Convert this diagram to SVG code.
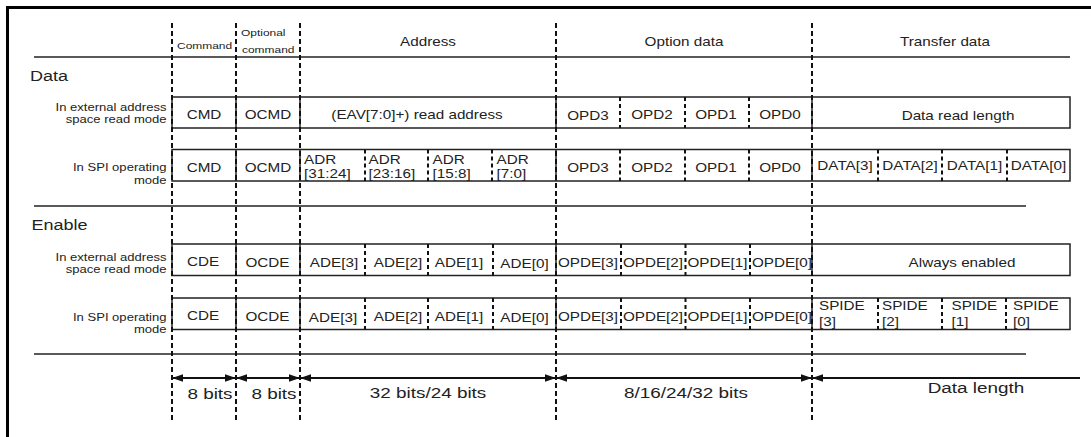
<svg xmlns="http://www.w3.org/2000/svg" width="1091" height="437" viewBox="0 0 1091 437">
<style>
.frame{fill:none;stroke:#000;stroke-width:3}
.rule{stroke:#222;stroke-width:1.3;fill:none}
.col{stroke:#111;stroke-width:2;stroke-dasharray:5 3;fill:none}
.box{fill:#fff;stroke:#222;stroke-width:1.5}
.sd{stroke:#222;stroke-width:1.5}
.dd{stroke:#111;stroke-width:2;stroke-dasharray:4 3}
.dim{stroke:#111;stroke-width:2;fill:none}
text{font-family:"Liberation Sans",Arial,Helvetica,sans-serif;fill:#222}
.c{font-size:12.5px;text-anchor:middle}
.l{font-size:12.5px}
.s{font-size:10.7px;text-anchor:end}
.h{font-size:9.8px}
.hd{font-size:12.5px;text-anchor:middle}
.sec{font-size:15px}
.b{font-size:15.5px;text-anchor:middle}
</style>
<defs>
<marker id="ah" markerUnits="userSpaceOnUse" markerWidth="11" markerHeight="8" refX="10" refY="3.5" orient="auto-start-reverse" viewBox="0 0 10 7">
<path d="M0,0 L10,3.5 L0,7 z" fill="#111"/>
</marker>
</defs>

<path class="frame" d="M7.5,437 V7.5 H1091"/>

<g id="rules">
<line class="rule" x1="34" y1="57" x2="1070" y2="57"/>
<line class="rule" x1="34" y1="206" x2="1026" y2="206"/>
<line class="rule" x1="34" y1="354" x2="1026" y2="354"/>
</g>

<g id="headers">
<text class="h" transform="translate(177 49) scale(1.22 1)">Command</text>
<text class="h" transform="translate(241 36) scale(1.22 1)">Optional</text>
<text class="h" transform="translate(242 53) scale(1.22 1)">command</text>
<text class="hd" transform="translate(428 46) scale(1.22 1)">Address</text>
<text class="hd" transform="translate(684 46) scale(1.22 1)">Option data</text>
<text class="hd" transform="translate(945 46) scale(1.22 1)">Transfer data</text>
</g>

<g id="sections">
<text class="sec" transform="translate(30 81) scale(1.2 1)">Data</text>
<text class="sec" transform="translate(31.5 230) scale(1.2 1)">Enable</text>
</g>

<g id="row-labels">
<text class="s" transform="translate(166.5 111) scale(1.22 1)">In external address</text>
<text class="s" transform="translate(166.5 123) scale(1.22 1)">space read mode</text>
<text class="s" transform="translate(166.5 171) scale(1.22 1)">In SPI operating</text>
<text class="s" transform="translate(166.5 184) scale(1.22 1)">mode</text>
<text class="s" transform="translate(166.5 260.5) scale(1.22 1)">In external address</text>
<text class="s" transform="translate(166.5 272.5) scale(1.22 1)">space read mode</text>
<text class="s" transform="translate(166.5 321) scale(1.22 1)">In SPI operating</text>
<text class="s" transform="translate(166.5 333) scale(1.22 1)">mode</text>
</g>

<!-- Row 1: Data, external address space read mode -->
<g id="row-data-ext">
<rect class="box" x="172" y="97" width="898" height="31"/>
<line class="sd" x1="236" y1="97" x2="236" y2="128"/>
<line class="sd" x1="300" y1="97" x2="300" y2="128"/>
<line class="sd" x1="556" y1="97" x2="556" y2="128"/>
<line class="sd" x1="812" y1="97" x2="812" y2="128"/>
<line class="dd" x1="620" y1="97" x2="620" y2="128"/>
<line class="dd" x1="685" y1="97" x2="685" y2="128"/>
<line class="dd" x1="749" y1="97" x2="749" y2="128"/>
<g id="r1-cmd"><text class="c" transform="translate(204 119) scale(1.22 1)">CMD</text></g>
<g id="r1-ocmd"><text class="c" transform="translate(268 119) scale(1.22 1)">OCMD</text></g>
<g id="r1-addr"><text class="c" transform="translate(417 119) scale(1.22 1)">(EAV[7:0]+) read address</text></g>
<g id="r1-opd3"><text class="c" transform="translate(588 120) scale(1.22 1)">OPD3</text></g>
<g id="r1-opd2"><text class="c" transform="translate(652 119) scale(1.22 1)">OPD2</text></g>
<g id="r1-opd1"><text class="c" transform="translate(716 119) scale(1.22 1)">OPD1</text></g>
<g id="r1-opd0"><text class="c" transform="translate(780 119) scale(1.22 1)">OPD0</text></g>
<g id="r1-len"><text class="c" transform="translate(958 120) scale(1.22 1)">Data read length</text></g>
</g>

<!-- Row 2: Data, SPI operating mode -->
<g id="row-data-spi">
<rect class="box" x="172" y="149.5" width="898" height="31.5"/>
<line class="sd" x1="236" y1="149.5" x2="236" y2="181"/>
<line class="sd" x1="300" y1="149.5" x2="300" y2="181"/>
<line class="sd" x1="556" y1="149.5" x2="556" y2="181"/>
<line class="sd" x1="812" y1="149.5" x2="812" y2="181"/>
<line class="dd" x1="365" y1="149.5" x2="365" y2="181"/>
<line class="dd" x1="428" y1="149.5" x2="428" y2="181"/>
<line class="dd" x1="492" y1="149.5" x2="492" y2="181"/>
<line class="dd" x1="620" y1="149.5" x2="620" y2="181"/>
<line class="dd" x1="685" y1="149.5" x2="685" y2="181"/>
<line class="dd" x1="749" y1="149.5" x2="749" y2="181"/>
<line class="dd" x1="878" y1="149.5" x2="878" y2="181"/>
<line class="dd" x1="942" y1="149.5" x2="942" y2="181"/>
<line class="dd" x1="1007" y1="149.5" x2="1007" y2="181"/>
<g id="r2-cmd"><text class="c" transform="translate(204 171.5) scale(1.22 1)">CMD</text></g>
<g id="r2-ocmd"><text class="c" transform="translate(268 171.5) scale(1.22 1)">OCMD</text></g>
<g id="r2-adr3"><text class="l" transform="translate(304 163.5) scale(1.22 1)">ADR</text><text class="l" transform="translate(304 178) scale(1.22 1)">[31:24]</text></g>
<g id="r2-adr2"><text class="l" transform="translate(368.5 163.5) scale(1.22 1)">ADR</text><text class="l" transform="translate(368.5 178) scale(1.22 1)">[23:16]</text></g>
<g id="r2-adr1"><text class="l" transform="translate(432.5 163.5) scale(1.22 1)">ADR</text><text class="l" transform="translate(432.5 178) scale(1.22 1)">[15:8]</text></g>
<g id="r2-adr0"><text class="l" transform="translate(496.5 163.5) scale(1.22 1)">ADR</text><text class="l" transform="translate(496.5 178) scale(1.22 1)">[7:0]</text></g>
<g id="r2-opd3"><text class="c" transform="translate(588 172) scale(1.22 1)">OPD3</text></g>
<g id="r2-opd2"><text class="c" transform="translate(652 172) scale(1.22 1)">OPD2</text></g>
<g id="r2-opd1"><text class="c" transform="translate(716 172) scale(1.22 1)">OPD1</text></g>
<g id="r2-opd0"><text class="c" transform="translate(780 172) scale(1.22 1)">OPD0</text></g>
<g id="r2-data3"><text class="c" transform="translate(845 170) scale(1.22 1)">DATA[3]</text></g>
<g id="r2-data2"><text class="c" transform="translate(910 170) scale(1.22 1)">DATA[2]</text></g>
<g id="r2-data1"><text class="c" transform="translate(974.5 170) scale(1.22 1)">DATA[1]</text></g>
<g id="r2-data0"><text class="c" transform="translate(1038.5 170) scale(1.22 1)">DATA[0]</text></g>
</g>

<!-- Row 3: Enable, external address space read mode -->
<g id="row-en-ext">
<rect class="box" x="172" y="244" width="898" height="31.5"/>
<line class="sd" x1="236" y1="244" x2="236" y2="275.5"/>
<line class="sd" x1="300" y1="244" x2="300" y2="275.5"/>
<line class="sd" x1="556" y1="244" x2="556" y2="275.5"/>
<line class="sd" x1="812" y1="244" x2="812" y2="275.5"/>
<line class="dd" x1="365" y1="244" x2="365" y2="275.5"/>
<line class="dd" x1="428" y1="244" x2="428" y2="275.5"/>
<line class="dd" x1="493" y1="244" x2="493" y2="275.5"/>
<line class="dd" x1="621" y1="244" x2="621" y2="275.5"/>
<line class="dd" x1="685.5" y1="244" x2="685.5" y2="275.5"/>
<line class="dd" x1="750" y1="244" x2="750" y2="275.5"/>
<g id="r3-cde"><text class="c" transform="translate(203 266) scale(1.22 1)">CDE</text></g>
<g id="r3-ocde"><text class="c" transform="translate(267.5 267) scale(1.22 1)">OCDE</text></g>
<g id="r3-ade3"><text class="c" transform="translate(334 267) scale(1.22 1)">ADE[3]</text></g>
<g id="r3-ade2"><text class="c" transform="translate(398 266.5) scale(1.22 1)">ADE[2]</text></g>
<g id="r3-ade1"><text class="c" transform="translate(459 266.5) scale(1.22 1)">ADE[1]</text></g>
<g id="r3-ade0"><text class="c" transform="translate(524.5 267.5) scale(1.22 1)">ADE[0]</text></g>
<g id="r3-opde3"><text class="c" transform="translate(588 267) scale(1.22 1)">OPDE[3]</text></g>
<g id="r3-opde2"><text class="c" transform="translate(653 267) scale(1.22 1)">OPDE[2]</text></g>
<g id="r3-opde1"><text class="c" transform="translate(717.5 267) scale(1.22 1)">OPDE[1]</text></g>
<g id="r3-opde0"><text class="c" transform="translate(782 267) scale(1.22 1)">OPDE[0]</text></g>
<g id="r3-always"><text class="c" transform="translate(962 267) scale(1.22 1)">Always enabled</text></g>
</g>

<!-- Row 4: Enable, SPI operating mode -->
<g id="row-en-spi">
<rect class="box" x="172" y="298" width="898" height="31.5"/>
<line class="sd" x1="236" y1="298" x2="236" y2="329.5"/>
<line class="sd" x1="300" y1="298" x2="300" y2="329.5"/>
<line class="sd" x1="556" y1="298" x2="556" y2="329.5"/>
<line class="sd" x1="812" y1="298" x2="812" y2="329.5"/>
<line class="dd" x1="365" y1="298" x2="365" y2="329.5"/>
<line class="dd" x1="428" y1="298" x2="428" y2="329.5"/>
<line class="dd" x1="493" y1="298" x2="493" y2="329.5"/>
<line class="dd" x1="621" y1="298" x2="621" y2="329.5"/>
<line class="dd" x1="685.5" y1="298" x2="685.5" y2="329.5"/>
<line class="dd" x1="750" y1="298" x2="750" y2="329.5"/>
<line class="dd" x1="878" y1="298" x2="878" y2="329.5"/>
<line class="dd" x1="942" y1="298" x2="942" y2="329.5"/>
<line class="dd" x1="1006" y1="298" x2="1006" y2="329.5"/>
<g id="r4-cde"><text class="c" transform="translate(203 320) scale(1.22 1)">CDE</text></g>
<g id="r4-ocde"><text class="c" transform="translate(267.5 321) scale(1.22 1)">OCDE</text></g>
<g id="r4-ade3"><text class="c" transform="translate(333 321.5) scale(1.22 1)">ADE[3]</text></g>
<g id="r4-ade2"><text class="c" transform="translate(398 320.5) scale(1.22 1)">ADE[2]</text></g>
<g id="r4-ade1"><text class="c" transform="translate(459 320.5) scale(1.22 1)">ADE[1]</text></g>
<g id="r4-ade0"><text class="c" transform="translate(524.5 321.5) scale(1.22 1)">ADE[0]</text></g>
<g id="r4-opde3"><text class="c" transform="translate(588 321) scale(1.22 1)">OPDE[3]</text></g>
<g id="r4-opde2"><text class="c" transform="translate(653 321) scale(1.22 1)">OPDE[2]</text></g>
<g id="r4-opde1"><text class="c" transform="translate(717.5 321) scale(1.22 1)">OPDE[1]</text></g>
<g id="r4-opde0"><text class="c" transform="translate(782 321) scale(1.22 1)">OPDE[0]</text></g>
<g id="r4-spide3"><text class="l" transform="translate(819 310) scale(1.22 1)">SPIDE</text><text class="l" transform="translate(819 326) scale(1.22 1)">[3]</text></g>
<g id="r4-spide2"><text class="l" transform="translate(882 310) scale(1.22 1)">SPIDE</text><text class="l" transform="translate(882 326) scale(1.22 1)">[2]</text></g>
<g id="r4-spide1"><text class="l" transform="translate(951.5 310) scale(1.22 1)">SPIDE</text><text class="l" transform="translate(951.5 326) scale(1.22 1)">[1]</text></g>
<g id="r4-spide0"><text class="l" transform="translate(1013 310) scale(1.22 1)">SPIDE</text><text class="l" transform="translate(1013 326) scale(1.22 1)">[0]</text></g>
</g>

<g id="connectors">
<line class="col" x1="172" y1="23" x2="172" y2="423"/>
<line class="col" x1="236" y1="23" x2="236" y2="423"/>
<line class="col" x1="300" y1="23" x2="300" y2="423"/>
<line class="col" x1="556" y1="23" x2="556" y2="423"/>
<line class="col" x1="812" y1="23" x2="812" y2="423"/>
<line class="dim" x1="172" y1="378" x2="236" y2="378" marker-start="url(#ah)" marker-end="url(#ah)"/>
<line class="dim" x1="236" y1="378" x2="300" y2="378" marker-start="url(#ah)" marker-end="url(#ah)"/>
<line class="dim" x1="300" y1="378" x2="556" y2="378" marker-start="url(#ah)" marker-end="url(#ah)"/>
<line class="dim" x1="556" y1="378" x2="812" y2="378" marker-start="url(#ah)" marker-end="url(#ah)"/>
<line class="dim" x1="812" y1="378" x2="1080" y2="378" marker-start="url(#ah)"/>
</g>

<g id="dimension-labels">
<text class="b" transform="translate(210 399) scale(1.22 1)">8 bits</text>
<text class="b" transform="translate(274 399) scale(1.22 1)">8 bits</text>
<text class="b" transform="translate(428 398) scale(1.22 1)">32 bits/24 bits</text>
<text class="b" transform="translate(686 398) scale(1.22 1)">8/16/24/32 bits</text>
<text class="b" transform="translate(976 393) scale(1.22 1)">Data length</text>
</g>
</svg>
